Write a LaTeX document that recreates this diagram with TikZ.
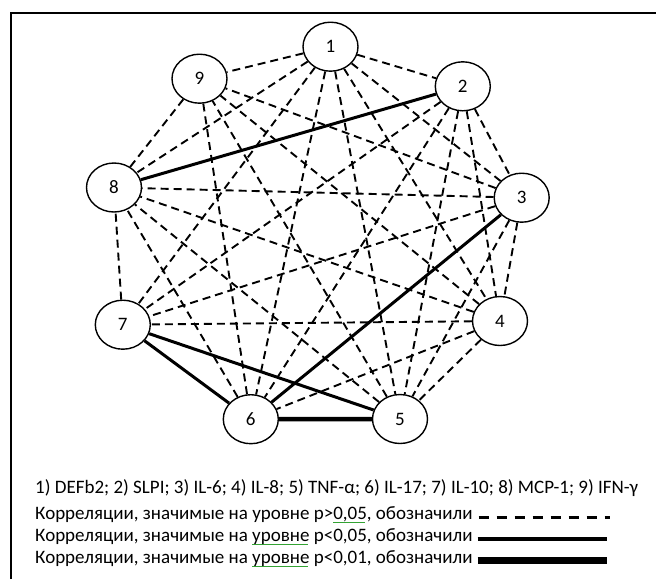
\documentclass[tikz,border=0pt]{standalone}
\usepackage{fontspec}
\setmainfont{Carlito}
\usetikzlibrary{shapes.geometric,calc}
\newsavebox\gwbox
\newcommand\gw[1]{\sbox\gwbox{#1}\rlap{\raisebox{-3.2pt}{\color{green!55!black!80}\leaders\hbox{\rule{1pt}{0.6pt}\rule[0.6pt]{1pt}{0.6pt}}\hskip\wd\gwbox}}\usebox\gwbox}
\begin{document}
\begin{tikzpicture}[x=1pt,y=-1pt,
  vtx/.style={draw, ellipse, line width=1.4pt, minimum width=55pt, minimum height=49pt, inner sep=0pt, font=\fontsize{19}{21}\selectfont},
  dsh/.style={line width=1.9pt, dash pattern=on 8pt off 5pt},
  sig/.style={line width=3pt},
  sigb/.style={line width=4.5pt},
  legtxt/.style={anchor=west, inner sep=0pt, font=\fontsize{19}{22}\selectfont},
  frame/.style={line width=2pt}]
\useasboundingbox (0,0) rectangle (656,579);
\coordinate (fa) at (11,579);
\coordinate (fb) at (11,13);
\coordinate (fc) at (656,13);
\draw[frame] (fa) -- (fb) -- (fc);

\node[vtx] (n1) at (330.5,46.7) {1};
\node[vtx] (n2) at (462.8,86.3) {2};
\node[vtx] (n3) at (521.7,197.7) {3};
\node[vtx] (n4) at (500,321) {4};
\node[vtx] (n5) at (400,419) {5};
\node[vtx] (n6) at (250.8,419.2) {6};
\node[vtx] (n7) at (122.8,324.7) {7};
\node[vtx] (n8) at (114,187.5) {8};
\node[vtx] (n9) at (199.5,78.7) {9};

\foreach \a/\b in {1/2,1/3,1/4,1/5,1/6,1/7,1/8,1/9,
                   2/3,2/4,2/5,2/6,2/7,
                   3/4,3/5,3/7,3/8,3/9,
                   4/5,4/6,4/7,4/8,4/9,
                   5/8,5/9,6/8,6/9,7/8,8/9}
  \draw[dsh] (n\a) -- (n\b);
\draw[sig] (n8) -- (n2);
\draw[sig] (n3) -- (n6);
\draw[sig] (n7) -- (n5);
\draw[sig] (n7) -- (n6);
\draw[sigb] (n6) -- (n5);

\node[legtxt] (l1) at (35,488) {1) DEFb2; 2) SLPI; 3) IL-6; 4) IL-8; 5) TNF-α; 6) IL-17; 7) IL-10; 8) MCP-1; 9) IFN-γ};
\node[legtxt] (l2) at (35,515) {Корреляции, значимые на уровне p>\gw{0,05}, обозначили};
\node[legtxt] (l3) at (35,537) {Корреляции, значимые на \gw{уровне} p<0,05, обозначили};
\node[legtxt] (l4) at (35,559) {Корреляции, значимые на \gw{уровне} p<0,01, обозначили};
\coordinate (d1) at ($(l2.east)+(6,2)$);
\coordinate (d2) at (610,517);
\coordinate (s1) at ($(l3.east)+(5,2)$);
\coordinate (s2) at (607,539);
\coordinate (t1) at ($(l4.east)+(5,1)$);
\coordinate (t2) at (607,560);
\draw[line width=3pt, dash pattern=on 10pt off 8pt] (d1) -- (d2);
\draw[line width=4pt] (s1) -- (s2);
\draw[line width=7pt] (t1) -- (t2);
\end{tikzpicture}
\end{document}
